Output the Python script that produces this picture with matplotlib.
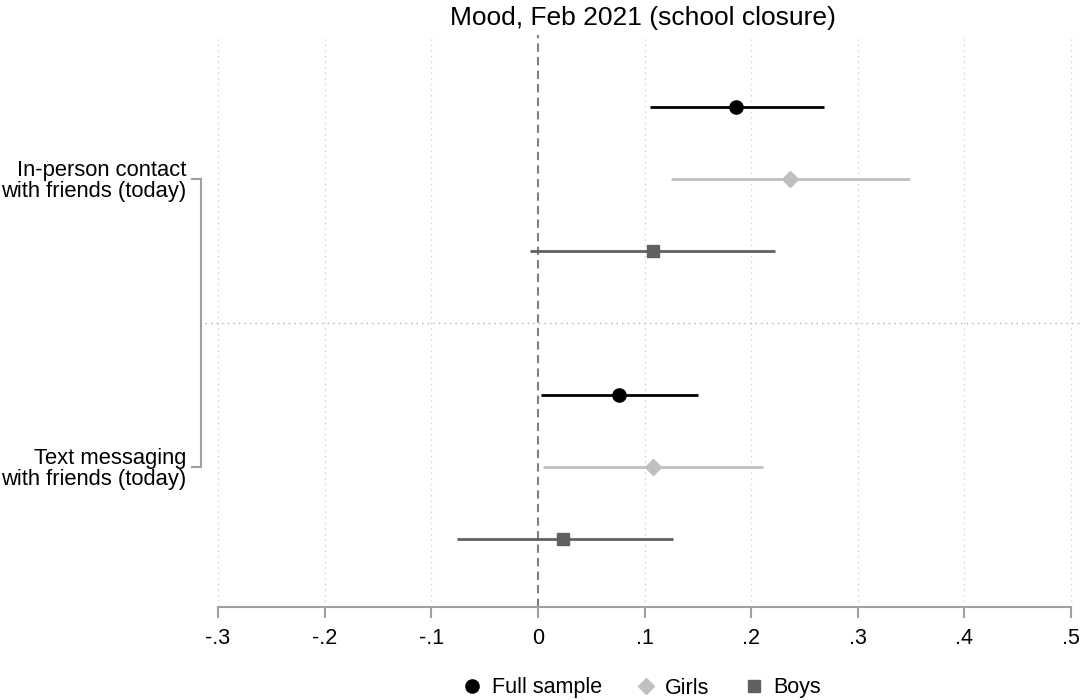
import matplotlib
matplotlib.use("Agg")
import matplotlib.pyplot as plt
from matplotlib.lines import Line2D

plt.rcParams['font.family'] = ['Liberation Sans', 'DejaVu Sans']

title = "Mood, Feb 2021 (school closure)"
groups = ["In-person contact\nwith friends (today)", "Text messaging\nwith friends (today)"]
series = ["Full sample", "Girls", "Boys"]
# estimates [group][series]
est = [[0.186, 0.236, 0.108], [0.076, 0.108, 0.024]]
lo = [[0.105, 0.125, -0.007], [0.003, 0.005, -0.076]]
hi = [[0.268, 0.349, 0.222], [0.150, 0.211, 0.127]]
xticks = [-0.3, -0.2, -0.1, 0.0, 0.1, 0.2, 0.3, 0.4, 0.5]
xticklabels = ["-.3", "-.2", "-.1", "0", ".1", ".2", ".3", ".4", ".5"]

colors = ["#000000", "#c0c0c0", "#606060"]
markers = ["o", "D", "s"]
msizes = [9.5, 8.5, 8.5]

fig = plt.figure(figsize=(10.84, 7.0), dpi=100)
ax = fig.add_axes([205/1084, 1-607/700, 875/1084, 572/700])

px = 0.1/106.6
ax.set_xlim(-0.3 - 13*px, 0.5 + 9*px)
ax.set_ylim(7.95, 0)

# gridlines
for t in xticks:
    if t == 0:
        ax.axvline(t, color="#808080", lw=1.5, ls=(0, (4, 2.5)), zorder=1)
    else:
        ax.axvline(t, color="#d0d0d0", lw=1.0, ls=(0, (1, 3)), zorder=1)
ax.axhline(4, color="#b0b0b0", lw=1.0, ls=(0, (1, 3)), zorder=1)

for g in range(2):
    for s in range(3):
        y = 1 + g*4 + s
        ax.plot([lo[g][s], hi[g][s]], [y, y], color=colors[s], lw=2.0, zorder=2, solid_capstyle='butt')
        ax.plot(est[g][s], y, marker=markers[s], color=colors[s], ms=msizes[s], ls='none', zorder=3)

for sp in ["top", "right"]:
    ax.spines[sp].set_visible(False)
ax.spines["bottom"].set_bounds(-0.3, 0.5)
ax.spines["left"].set_bounds(2, 6)
ax.spines["left"].set_position(("outward", 3))
for sp in ["bottom", "left"]:
    ax.spines[sp].set_color("#a0a0a0")
    ax.spines[sp].set_linewidth(1.5)
ax.tick_params(axis="x", color="#a0a0a0", width=1.5, length=8, pad=7, labelsize=15.5)
ax.tick_params(axis="y", color="#a0a0a0", width=1.5, length=7, pad=3.5, labelsize=15.8)

ax.set_xticks(xticks)
ax.set_xticklabels(xticklabels, fontsize=15.5)
ax.set_yticks([2, 6])
ax.set_yticklabels(groups, fontsize=15.8, linespacing=1.0)

fig.text(643/1084, 1-18/700, title, ha="center", va="center", fontsize=19)

handles = [Line2D([], [], marker=markers[s], color=colors[s], ls='none', ms=msizes[s]) for s in range(3)]
fig.legend(handles, series, loc="center", bbox_to_anchor=(640/1084, 1-688/700), ncol=3,
           frameon=False, fontsize=15.5, handletextpad=0.3, columnspacing=1.45, handlelength=1.2)

fig.savefig("out.png", dpi=100)
